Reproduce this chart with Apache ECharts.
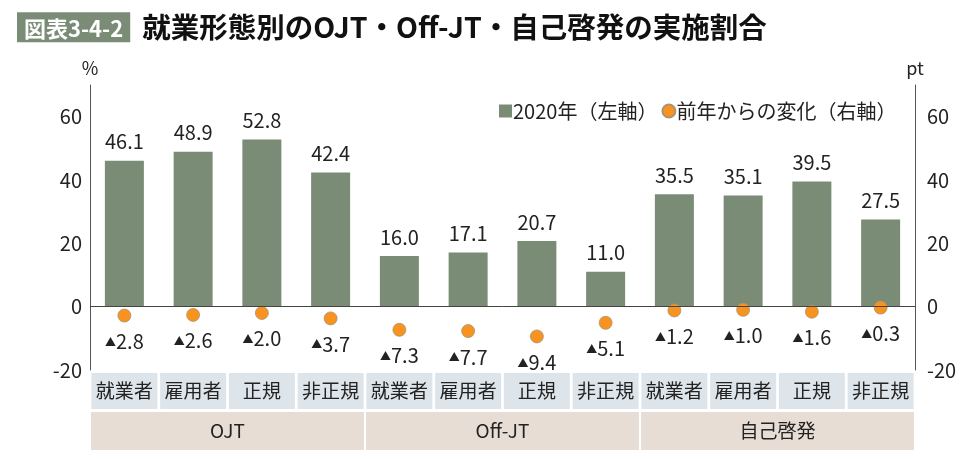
<!DOCTYPE html>
<html>
<head>
<meta charset="utf-8">
<script src="https://cdn.jsdelivr.net/npm/echarts@6/dist/echarts.min.js"></script>
<style>
  html, body { margin: 0; padding: 0; background: #fff; }
  #chart { width: 973px; height: 459px; }
</style>
</head>
<body>
<div id="chart"></div>
<script>
// 就業形態別のOJT・Off-JT・自己啓発の実施割合
const categories = ['就業者', '雇用者', '正規', '非正規', '就業者', '雇用者', '正規', '非正規', '就業者', '雇用者', '正規', '非正規']
const groups = ['OJT', 'Off-JT', '自己啓発']
const rate2020 = [46.1, 48.9, 52.8, 42.4, 16.0, 17.1, 20.7, 11.0, 35.5, 35.1, 39.5, 27.5]
const changeFromPrev = [-2.8, -2.6, -2.0, -3.7, -7.3, -7.7, -9.4, -5.1, -1.2, -1.0, -1.6, -0.3]
const yTicks = [-20, 0, 20, 40, 60]

const font = '"Noto Sans CJK JP", "Noto Sans", sans-serif'
const barColor = '#7b8c76'
const dotColor = '#f7931e'

const myChart = echarts.init(document.getElementById('chart'))

const yAxisBase = {
  type: 'value',
  min: -20,
  max: 70,
  interval: 10,
  axisLine: { show: true, lineStyle: { color: '#555', width: 1 } },
  axisTick: { show: false },
  splitLine: { show: false },
  axisLabel: {
    color: '#222',
    fontSize: 20,
    fontFamily: font,
    formatter: (v) => (yTicks.indexOf(v) >= 0 ? String(v) : '')
  },
  nameTextStyle: { color: '#222', fontSize: 18, fontFamily: font },
  nameGap: 8
}

myChart.setOption({
  animation: false,
  title: {
    left: 12,
    top: 8,
    text: '{box|図表3-4-2}{gap| }{t|就業形態別のOJT・Off-JT・自己啓発の実施割合}',
    textStyle: {
      rich: {
        box: {
          backgroundColor: barColor,
          color: '#fff',
          fontSize: 22,
          fontWeight: 'bold',
          fontFamily: font,
          padding: [4, 7, 2, 7],
          height: 24,
          lineHeight: 24
        },
        gap: { fontSize: 13, width: 12 },
        t: {
          color: '#111',
          fontSize: 28.5,
          fontWeight: 'bold',
          fontFamily: font
        }
      }
    }
  },
  legend: {
    left: 494,
    top: 96,
    itemWidth: 13,
    itemHeight: 13,
    itemGap: 4,
    textStyle: { color: '#222', fontSize: 20, fontFamily: font, padding: [0, 0, 0, -4] },
    data: [
      { name: '2020年（左軸）', icon: 'rect' },
      { name: '前年からの変化（右軸）', icon: 'circle' }
    ]
  },
  grid: {
    left: 90,
    right: 58,
    top: 85,
    bottom: 89
  },
  xAxis: [
    {
      type: 'category',
      data: categories,
      axisLine: { show: false },
      axisTick: { show: false },
      axisLabel: {
        interval: 0,
        margin: 3,
        color: '#222',
        fontSize: 19,
        fontFamily: font,
        backgroundColor: '#dde5eb',
        width: 66,
        height: 36,
        lineHeight: 36,
        align: 'center'
      }
    },
    {
      type: 'category',
      data: groups,
      position: 'bottom',
      axisLine: { show: false },
      axisTick: { show: false },
      axisLabel: {
        interval: 0,
        margin: 42,
        color: '#222',
        fontSize: 19,
        fontFamily: font,
        backgroundColor: '#e7ddd4',
        width: 273,
        height: 38,
        lineHeight: 38,
        align: 'center'
      }
    }
  ],
  yAxis: [
    Object.assign({}, yAxisBase, { position: 'left', name: '%', nameLocation: 'end' }),
    Object.assign({}, yAxisBase, {
      position: 'right',
      name: 'pt',
      nameLocation: 'end',
      axisLabel: Object.assign({}, yAxisBase.axisLabel, { margin: 12 })
    })
  ],
  series: [
    {
      name: '2020年（左軸）',
      type: 'bar',
      data: rate2020,
      xAxisIndex: 0,
      yAxisIndex: 0,
      barWidth: 39,
      itemStyle: { color: barColor },
      label: {
        show: true,
        position: 'top',
        distance: 9,
        color: '#222',
        fontSize: 20,
        fontFamily: font,
        formatter: (p) => p.value.toFixed(1)
      },
      markLine: {
        silent: true,
        symbol: 'none',
        label: { show: false },
        lineStyle: { color: '#444', width: 1, type: 'solid' },
        data: [{ yAxis: 0 }]
      }
    },
    {
      name: '前年からの変化（右軸）',
      type: 'scatter',
      data: changeFromPrev,
      xAxisIndex: 0,
      yAxisIndex: 1,
      symbolSize: 13,
      itemStyle: { color: dotColor, opacity: 1, borderColor: '#a89478', borderWidth: 0.8 },
      label: {
        show: true,
        position: 'bottom',
        distance: 9,
        formatter: (p) => '{t|▲}{v|' + Math.abs(p.value).toFixed(1) + '}',
        rich: {
          t: { fontSize: 11, color: '#222', fontFamily: font, verticalAlign: 'middle' },
          v: { fontSize: 20, color: '#222', fontFamily: font }
        }
      }
    }
  ]
})
</script>
</body>
</html>
